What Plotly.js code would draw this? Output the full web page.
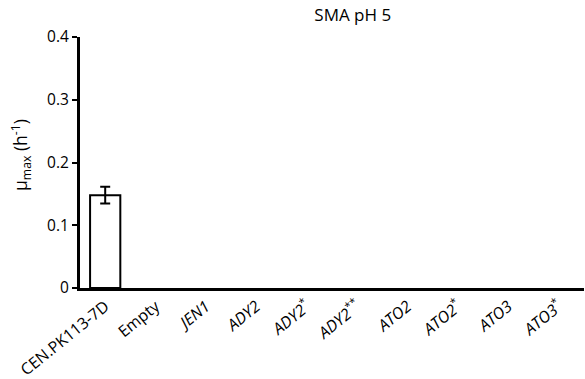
<!DOCTYPE html>
<html><head><meta charset="utf-8">
<script src="https://cdn.plot.ly/plotly-3.0.1.min.js"></script>
<style>body{margin:0;background:#fff}#chart{width:585px;height:379px}</style>
</head><body><div id="chart"></div>
<script>
const categories = ["CEN.PK113-7D","Empty","<i>JEN1</i>","<i>ADY2</i>","<i>ADY2</i><sup>*</sup>","<i>ADY2</i><sup>**</sup>","<i>ATO2</i>","<i>ATO2</i><sup>*</sup>","<i>ATO3</i>","<i>ATO3</i><sup>*</sup>"];
const muMax = [0.148,0,0,0,0,0,0,0,0,0];
const muErr = [0.0135,0,0,0,0,0,0,0,0,0];
const titleText = "SMA pH 5";
const yTitleText = "μ<sub>max</sub> (h<sup>-1</sup>)";
const yTicks = [0,0.1,0.2,0.3,0.4];
const yTickText = ["0","0.1","0.2","0.3","0.4"];

const font = "'Open Sans', 'Noto Sans', sans-serif";
// zero-height bars are not drawn (no outline / error caps at the baseline)
const yDraw = muMax.map(v => v > 0 ? v : null);
const errDraw = muMax.map((v, i) => v > 0 ? muErr[i] : null);
Plotly.newPlot('chart', [{
  type:'bar', x:categories, y:yDraw,
  marker:{color:'#fff', line:{color:'#000', width:2}},
  width:0.6,
  error_y:{type:'data', array:errDraw, visible:true, color:'#000', thickness:2, width:5},
  showlegend:false, hoverinfo:'none'
}], {
  width:585, height:379,
  margin:{l:80, r:1, t:37, b:91, pad:0},
  paper_bgcolor:'#fff', plot_bgcolor:'#fff',
  font:{family:font, size:13, color:'#000'},
  title:{text:titleText, x:0.603, xref:'container', xanchor:'center', y:0.96, yref:'container', yanchor:'middle', font:{family:font, size:17, color:'#000'}},
  xaxis:{type:'category', showline:true, linecolor:'#000', linewidth:3, ticks:'', tickangle:-39, showgrid:false, zeroline:false, tickfont:{size:16}, range:[-0.5,9.5]},
  yaxis:{range:[0,0.4], tickvals:yTicks, ticktext:yTickText, showline:true, linecolor:'#000', linewidth:3, ticks:'outside', ticklen:5, tickwidth:2, tickcolor:'#000', showgrid:false, zeroline:false, tickfont:{size:15.5}},
  annotations:[{text:yTitleText, textangle:-90, xref:'paper', yref:'paper', x:-0.117, y:0.53, xanchor:'center', yanchor:'middle', showarrow:false, font:{family:font, size:17.5, color:'#000'}}]
}, {staticPlot:true});
</script></body></html>
